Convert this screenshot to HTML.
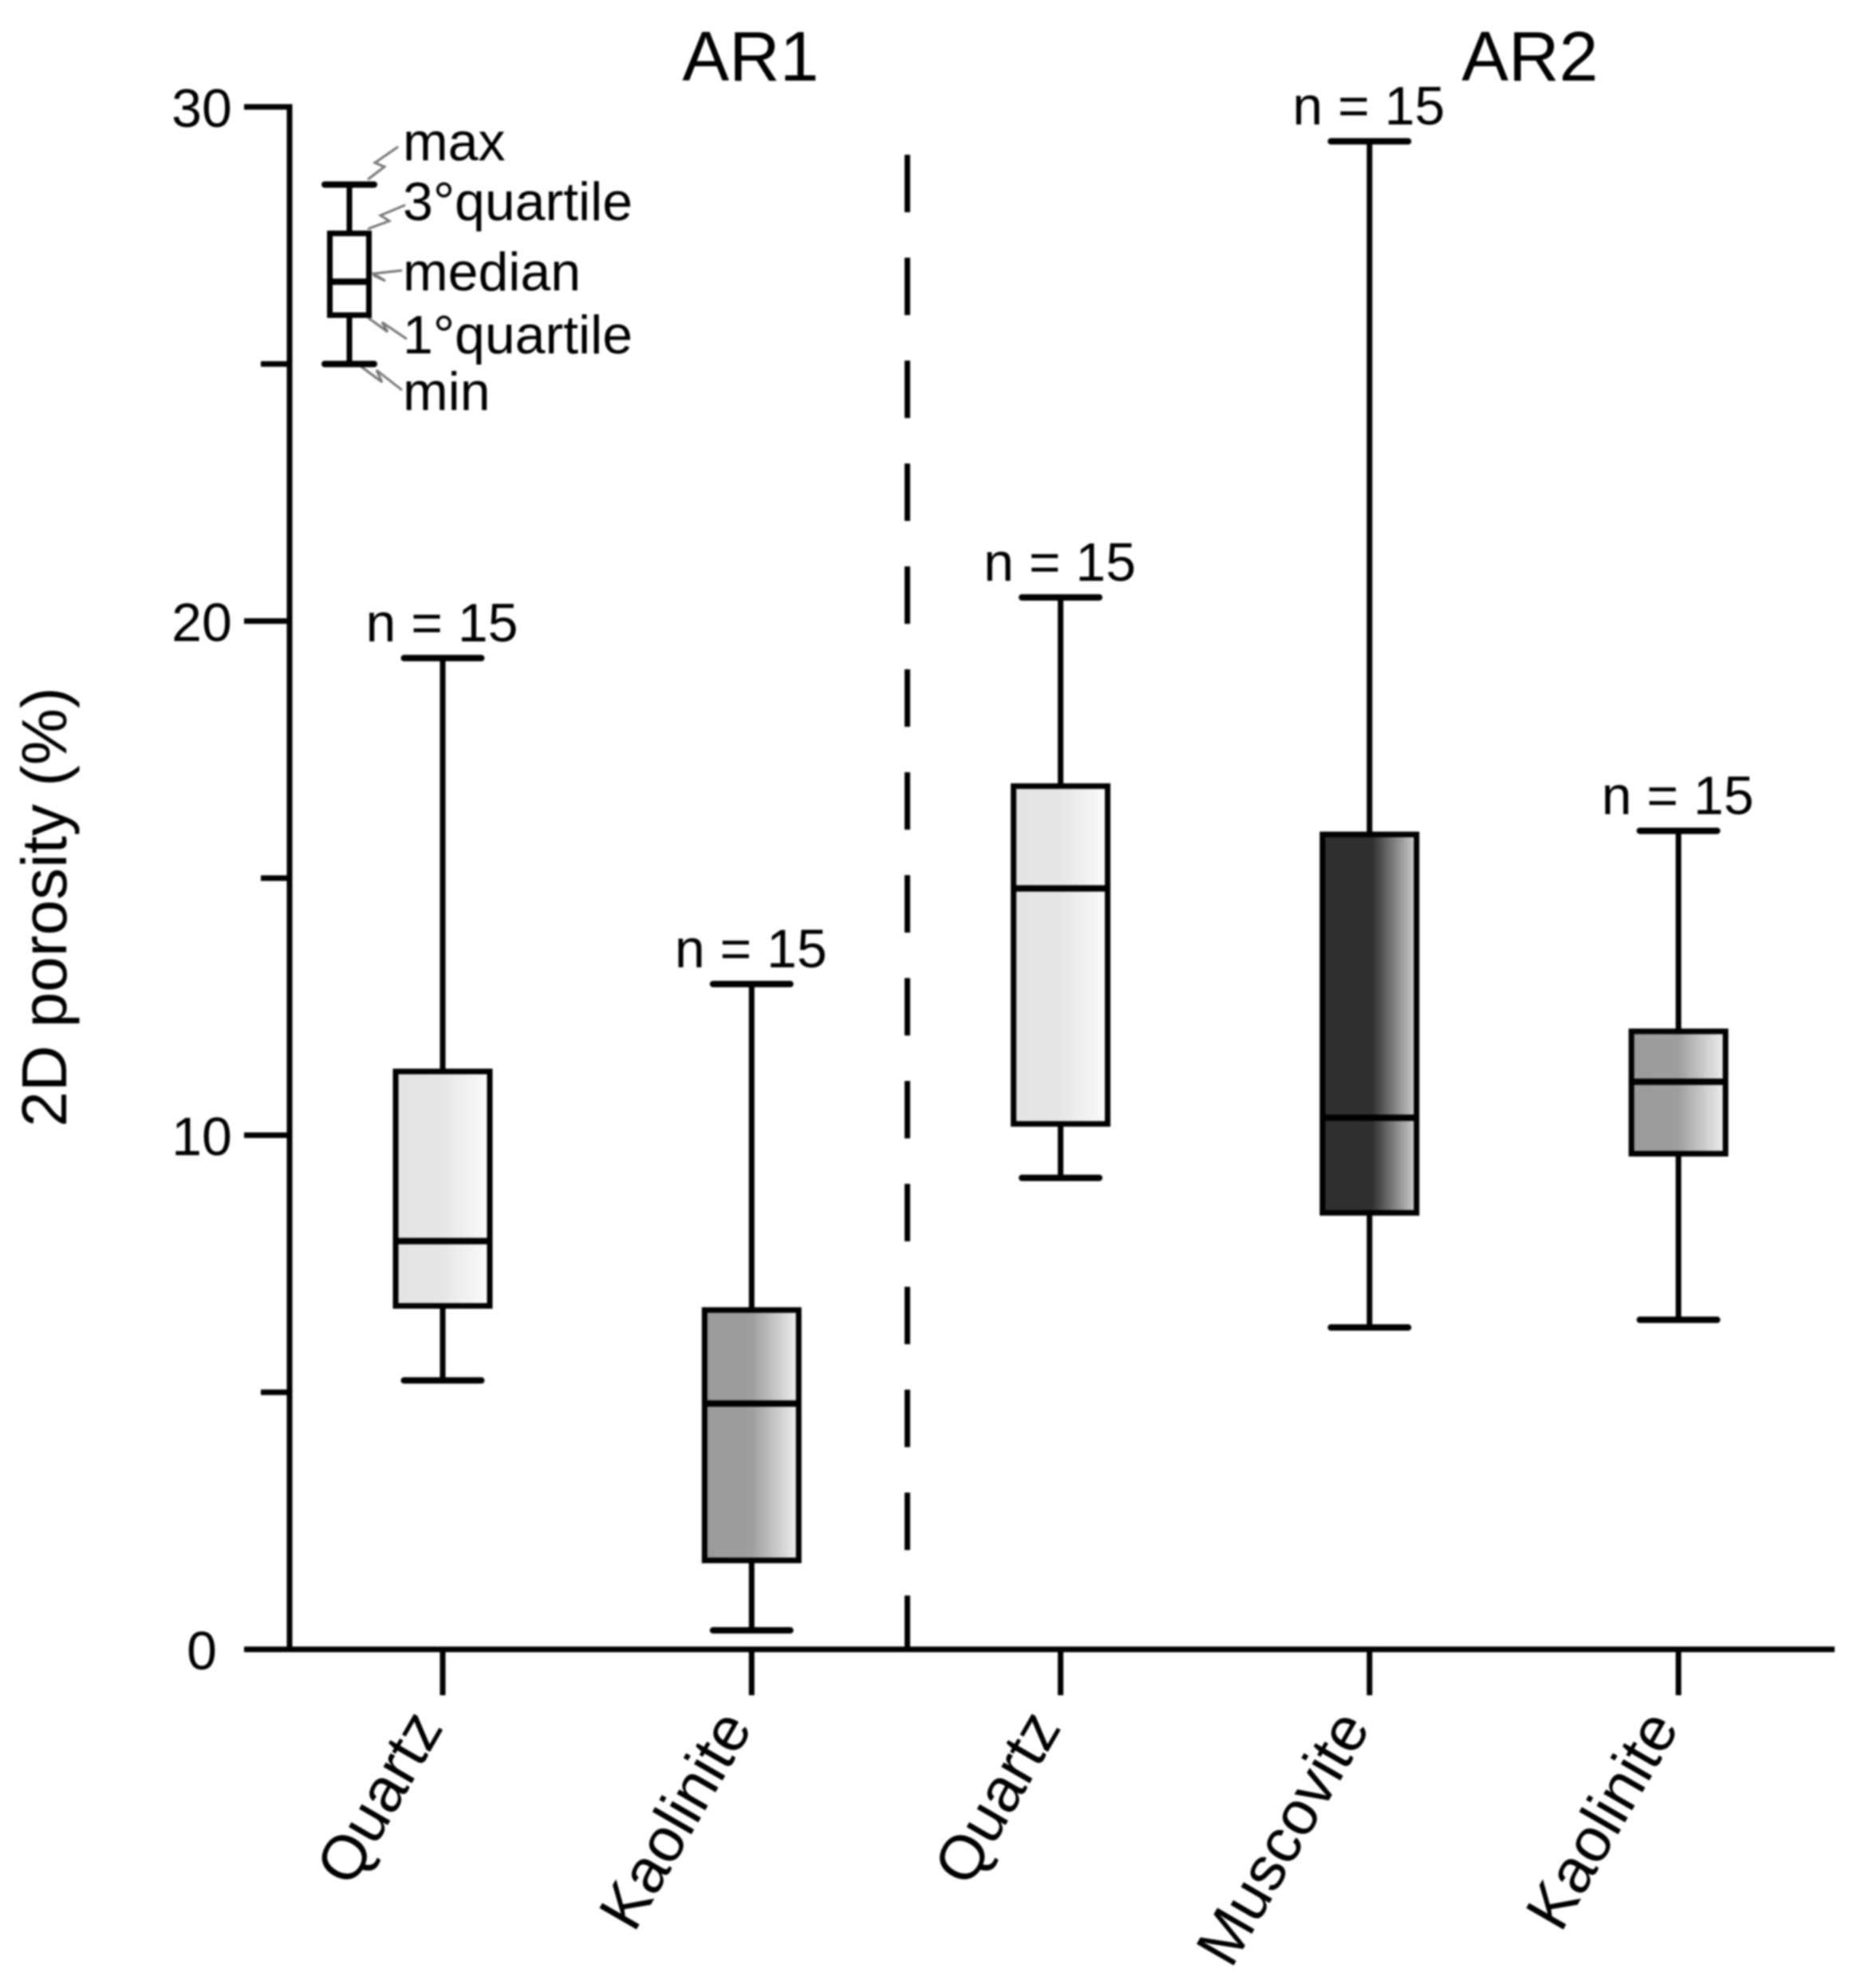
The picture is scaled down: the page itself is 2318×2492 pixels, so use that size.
<!DOCTYPE html>
<html lang="en">
<head>
<meta charset="utf-8">
<title>2D porosity box plot</title>
<style>
  html, body { margin: 0; padding: 0; background: #fff; }
  #chart { display: block; width: 2318px; height: 2492px; filter: blur(1px); }
  text { font-family: "Liberation Sans", Arial, sans-serif; fill: #000; }
</style>
</head>
<body>
<svg id="chart" xmlns="http://www.w3.org/2000/svg" width="2318" height="2492" viewBox="0 0 2318 2492">
  <defs>
    <linearGradient id="fill-light" x1="0" x2="1" y1="0" y2="0">
      <stop offset="0" stop-color="#e4e4e4"/><stop offset="0.5" stop-color="#e6e6e6"/><stop offset="1" stop-color="#fbfbfb"/>
    </linearGradient>
    <linearGradient id="fill-mid" x1="0" x2="1" y1="0" y2="0">
      <stop offset="0" stop-color="#9b9b9b"/><stop offset="0.5" stop-color="#9e9e9e"/><stop offset="1" stop-color="#f0f0f0"/>
    </linearGradient>
    <linearGradient id="fill-dark" x1="0" x2="1" y1="0" y2="0">
      <stop offset="0" stop-color="#2f2f2f"/><stop offset="0.53" stop-color="#303030"/><stop offset="1" stop-color="#d2d2d2"/>
    </linearGradient>
  </defs>

  <text x="941" y="101" font-size="88" text-anchor="middle">AR1</text>
  <text x="1918" y="101" font-size="88" text-anchor="middle">AR2</text>
  <text transform="translate(83 1137) rotate(-90)" font-size="80" text-anchor="middle">2D porosity (%)</text>

  <line x1="1137.5" y1="194" x2="1137.5" y2="2067" stroke="#000" stroke-width="7" stroke-dasharray="72 57"/>

  <g id="axes"></g>
  <g id="boxes"></g>

  <g id="key">
    <text x="505" y="201" font-size="68">max</text>
    <text x="505" y="276" font-size="68">3°quartile</text>
    <text x="505" y="364" font-size="68">median</text>
    <text x="505" y="443" font-size="68">1°quartile</text>
    <text x="505" y="514" font-size="68">min</text>
    <g fill="none" stroke="#777" stroke-width="3">
      <polyline points="461,225 482,209 470,204 499,184"/>
      <polyline points="461,287 488,277 477,270 508,257"/>
      <polyline points="468,345 483,352 468,343 504,339"/>
      <polyline points="461,398 486,416 479,404 510,425"/>
      <polyline points="452,459 479,479 472,464 504,489"/>
    </g>
  </g>
</svg>

<script>
// Chart data
const categories = ["Quartz", "Kaolinite", "Quartz", "Muscovite", "Kaolinite"];
const groups = ["AR1", "AR1", "AR2", "AR2", "AR2"];
const maxValues = [19.28, 12.94, 20.46, 29.33, 15.92];
const q3Values = [11.24, 6.60, 16.79, 15.85, 12.02];
const medianValues = [7.94, 4.78, 14.80, 10.34, 11.04];
const q1Values = [6.68, 1.73, 10.22, 8.49, 9.64];
const minValues = [5.23, 0.37, 9.17, 6.26, 6.41];
const sampleLabels = ["n = 15", "n = 15", "n = 15", "n = 15", "n = 15"];
const fillNames = ["light", "mid", "light", "dark", "mid"];
const yTickValues = [0, 5, 10, 15, 20, 25, 30];
const yTickLabels = ["0", "", "10", "", "20", "", "30"];
const keyValues = [28.49, 27.54, 26.6, 25.95, 25.0];

// Axis functions
function yScale(v) { return 2067.5 - v * 64.45; }
function xScale(i) { return 555 + i * 387.3; }

const NS = "http://www.w3.org/2000/svg";
const axes = document.getElementById("axes");
const boxes = document.getElementById("boxes");
const key = document.getElementById("key");

function line(parent, x1, y1, x2, y2, width, cap) {
  const el = document.createElementNS(NS, "line");
  el.setAttribute("x1", x1);
  el.setAttribute("y1", y1);
  el.setAttribute("x2", x2);
  el.setAttribute("y2", y2);
  el.setAttribute("stroke", "#000");
  el.setAttribute("stroke-width", width);
  el.setAttribute("stroke-linecap", cap || "butt");
  parent.appendChild(el);
  return el;
}

function label(parent, str, x, y, size, anchor) {
  const el = document.createElementNS(NS, "text");
  el.setAttribute("x", x);
  el.setAttribute("y", y);
  el.setAttribute("font-size", size);
  el.setAttribute("text-anchor", anchor);
  el.textContent = str;
  parent.appendChild(el);
  return el;
}

function drawBox(parent, cx, max, q3, med, q1, min, fill, w, capW, sw, capSw, prefix) {
  const whiskerHi = line(parent, cx, yScale(max), cx, yScale(q3), sw);
  
  
  const whiskerLo = line(parent, cx, yScale(q1), cx, yScale(min), sw);
  
  
  const capHi = line(parent, cx - capW / 2, yScale(max), cx + capW / 2, yScale(max), capSw, "round");
  
  
  const capLo = line(parent, cx - capW / 2, yScale(min), cx + capW / 2, yScale(min), capSw, "round");
  
  
  const rect = document.createElementNS(NS, "rect");
  rect.setAttribute("x", cx - w / 2);
  rect.setAttribute("y", yScale(q3));
  rect.setAttribute("width", w);
  rect.setAttribute("height", yScale(q1) - yScale(q3));
  rect.setAttribute("fill", fill);
  rect.setAttribute("stroke", "#000");
  rect.setAttribute("stroke-width", sw);
  
  
  parent.appendChild(rect);
  const medLine = line(parent, cx - w / 2, yScale(med), cx + w / 2, yScale(med), capSw);
  
  
}

// Axes
const yAxis = line(axes, 363, yScale(30) - 3.5, 363, yScale(0) + 3.5, 7);


const xAxis = line(axes, 306, yScale(0), 2300, yScale(0), 7);



yTickValues.forEach(function (v, i) {
  const major = yTickLabels[i] !== "";
  const tick = line(axes, major ? 306 : 327, yScale(v), 363, yScale(v), 7);
  
  
  if (major) {
    const t = label(axes, yTickLabels[i], 253, yScale(v) + 25, 68, "middle");
    
    
  }
});

// Category ticks, labels and boxes
categories.forEach(function (name, i) {
  const cx = xScale(i);
  const slug = groups[i].toLowerCase() + "-" + name.toLowerCase();
  const tick = line(axes, cx, yScale(0), cx, 2125, 7);
  
  

  const t = label(axes, name, 0, 0, 78, "end");
  t.setAttribute("transform", "translate(" + (cx + 2) + " 2165) rotate(-60)");
  
  

  drawBox(boxes, cx, maxValues[i], q3Values[i], medianValues[i], q1Values[i], minValues[i],
    "url(#fill-" + fillNames[i] + ")", 118, 97, 7, 8, "box-" + slug);

  const n = label(boxes, sampleLabels[i], cx - 1, yScale(maxValues[i]) - 21, 68, "middle");
  
  
});

// Key example box
drawBox(key, 438, keyValues[0], keyValues[1], keyValues[2], keyValues[3], keyValues[4], "#fff", 49, 62, 7, 8, "key-example");
</script>
</body>
</html>
